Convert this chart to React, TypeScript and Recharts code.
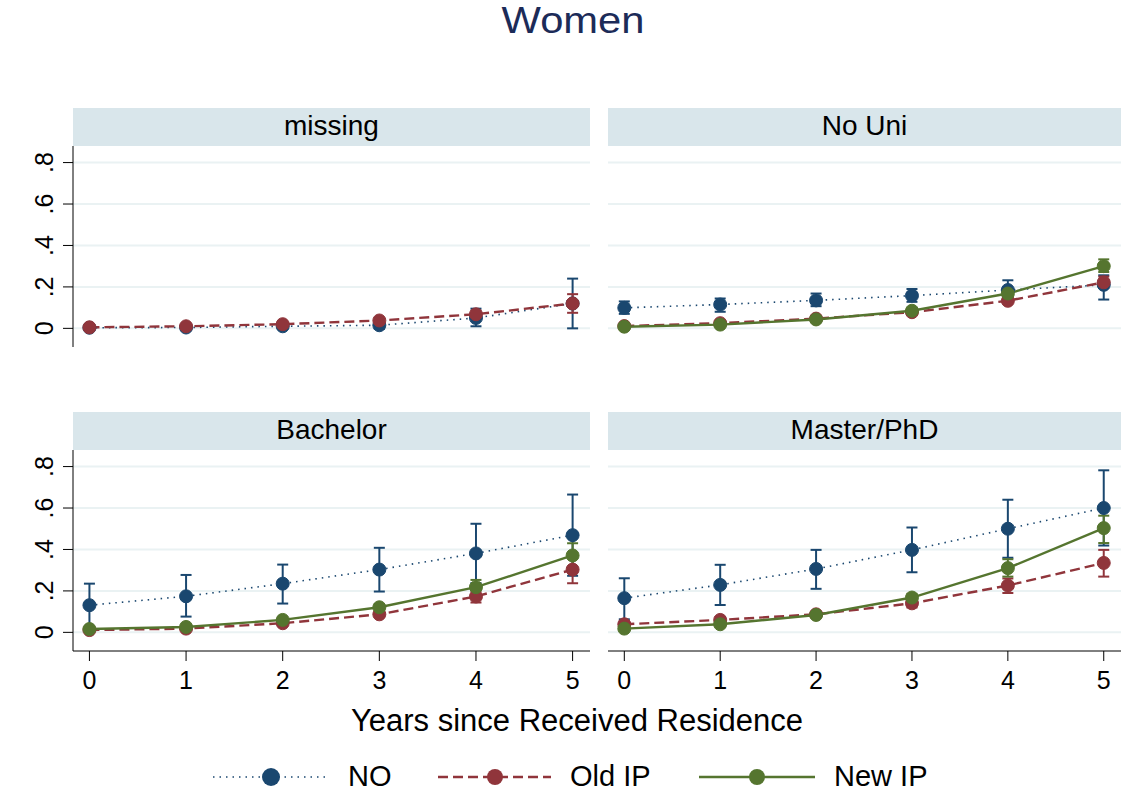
import React from 'react';
import { LineChart, Line, XAxis, YAxis, CartesianGrid, ErrorBar } from 'recharts';

// ---------- data ----------
const years = [0, 1, 2, 3, 4, 5];
const yTicks = [0, 0.2, 0.4, 0.6, 0.8];
const yTickLabels = ['0', '.2', '.4', '.6', '.8'];
const panelTitles = ['missing', 'No Uni', 'Bachelor', 'Master/PhD'];
const seriesNames = ['NO', 'Old IP', 'New IP'];
const chartTitle = 'Women';
const xTitle = 'Years since Received Residence';

// panel: missing
const missingNO = [0.003, 0.004, 0.01, 0.015, 0.05, 0.12];
const missingNOLo = [0.0, 0.0, 0.0, -0.003, 0.01, 0.0];
const missingNOHi = [0.006, 0.01, 0.02, 0.035, 0.095, 0.24];
const missingOld = [0.005, 0.01, 0.02, 0.038, 0.068, 0.12];
const missingOldLo = [0.002, 0.006, 0.014, 0.03, 0.055, 0.075];
const missingOldHi = [0.008, 0.014, 0.026, 0.046, 0.085, 0.165];

// panel: No Uni
const noUniNO = [0.099, 0.115, 0.135, 0.158, 0.185, 0.21];
const noUniNOLo = [0.07, 0.08, 0.107, 0.128, 0.144, 0.139];
const noUniNOHi = [0.13, 0.144, 0.168, 0.19, 0.232, 0.256];
const noUniOld = [0.011, 0.025, 0.047, 0.078, 0.133, 0.222];
const noUniOldLo = [0.005, 0.017, 0.04, 0.07, 0.12, 0.195];
const noUniOldHi = [0.017, 0.033, 0.055, 0.087, 0.147, 0.25];
const noUniNew = [0.008, 0.018, 0.043, 0.085, 0.168, 0.3];
const noUniNewLo = [0.004, 0.013, 0.037, 0.076, 0.155, 0.272];
const noUniNewHi = [0.012, 0.023, 0.049, 0.094, 0.181, 0.333];

// panel: Bachelor
const bachNO = [0.131, 0.174, 0.235, 0.303, 0.381, 0.469];
const bachNOLo = [0.025, 0.076, 0.139, 0.197, 0.238, 0.273];
const bachNOHi = [0.235, 0.277, 0.327, 0.408, 0.524, 0.665];
const bachOld = [0.011, 0.018, 0.044, 0.087, 0.173, 0.303];
const bachOldLo = [0.006, 0.012, 0.036, 0.076, 0.144, 0.237];
const bachOldHi = [0.016, 0.024, 0.052, 0.098, 0.197, 0.37];
const bachNew = [0.016, 0.026, 0.06, 0.121, 0.218, 0.371];
const bachNewLo = [0.01, 0.019, 0.05, 0.105, 0.18, 0.31];
const bachNewHi = [0.022, 0.033, 0.07, 0.137, 0.253, 0.43];

// panel: Master/PhD
const mastNO = [0.165, 0.229, 0.306, 0.398, 0.5, 0.6];
const mastNOLo = [0.063, 0.132, 0.21, 0.29, 0.36, 0.419];
const mastNOHi = [0.261, 0.326, 0.398, 0.506, 0.64, 0.782];
const mastOld = [0.039, 0.06, 0.087, 0.14, 0.226, 0.335];
const mastOldLo = [0.027, 0.046, 0.075, 0.12, 0.19, 0.269];
const mastOldHi = [0.051, 0.074, 0.099, 0.16, 0.26, 0.398];
const mastNew = [0.018, 0.039, 0.084, 0.168, 0.31, 0.503];
const mastNewLo = [0.01, 0.028, 0.072, 0.15, 0.269, 0.431];
const mastNewHi = [0.026, 0.05, 0.096, 0.186, 0.353, 0.563];

// ---------- style ----------
const FONT = '"Liberation Sans", Arial, Helvetica, sans-serif';
const NAVY = '#1a476f';
const MAROON = '#90353b';
const GREEN = '#55752f';
const STRIP = '#d9e6eb';
const GRID = '#eaf2f3';
const TITLE_COLOR = '#1c2b58';

const xDomain = [-0.17, 5.18];
const yDomain = [-0.09, 0.88];

type Ser = { est: number[]; lo: number[]; hi: number[] } | null;

function err(est: number[], lo: number[], hi: number[], i: number) {
  return [est[i] - lo[i], hi[i] - est[i]];
}

function buildRows(no: Ser, old: Ser, nw: Ser) {
  return years.map((x, i) => {
    const r: any = { x };
    if (no) { r.no = no.est[i]; r.noErr = err(no.est, no.lo, no.hi, i); }
    if (old) { r.old = old.est[i]; r.oldErr = err(old.est, old.lo, old.hi, i); }
    if (nw) { r.nw = nw.est[i]; r.nwErr = err(nw.est, nw.lo, nw.hi, i); }
    return r;
  });
}

const panels = [
  {
    title: panelTitles[0], col: 0, row: 0,
    rows: buildRows(
      { est: missingNO, lo: missingNOLo, hi: missingNOHi },
      { est: missingOld, lo: missingOldLo, hi: missingOldHi },
      null),
    hasNew: false,
  },
  {
    title: panelTitles[1], col: 1, row: 0,
    rows: buildRows(
      { est: noUniNO, lo: noUniNOLo, hi: noUniNOHi },
      { est: noUniOld, lo: noUniOldLo, hi: noUniOldHi },
      { est: noUniNew, lo: noUniNewLo, hi: noUniNewHi }),
    hasNew: true,
  },
  {
    title: panelTitles[2], col: 0, row: 1,
    rows: buildRows(
      { est: bachNO, lo: bachNOLo, hi: bachNOHi },
      { est: bachOld, lo: bachOldLo, hi: bachOldHi },
      { est: bachNew, lo: bachNewLo, hi: bachNewHi }),
    hasNew: true,
  },
  {
    title: panelTitles[3], col: 1, row: 1,
    rows: buildRows(
      { est: mastNO, lo: mastNOLo, hi: mastNOHi },
      { est: mastOld, lo: mastOldLo, hi: mastOldHi },
      { est: mastNew, lo: mastNewLo, hi: mastNewHi }),
    hasNew: true,
  },
];

// ---------- layout ----------
const HEADER_H = 38;
const PLOT_H = 201;
const X_AXIS_H = 50;
const Y_AXIS_W = 73;
const rowHeaderTop = [108, 412];
const colChartLeft = [0, 608];
const colChartW = [590, 513];

const YTick = (p: any) => {
  const idx = yTicks.indexOf(p.payload.value);
  return (
    <text
      transform={`translate(53, ${p.y}) rotate(-90)`}
      textAnchor="middle"
      fontSize={25}
      fontFamily={FONT}
      fill="#000"
    >
      {idx >= 0 ? yTickLabels[idx] : p.payload.value}
    </text>
  );
};

const XTick = (p: any) => (
  <text x={p.x} y={PLOT_H + 38} textAnchor="middle" fontSize={25} fontFamily={FONT} fill="#000">
    {p.payload.value}
  </text>
);

function Panel({ panel }: { panel: any }) {
  const showY = panel.col === 0;
  const showX = panel.row === 1;
  const left = colChartLeft[panel.col];
  const w = colChartW[panel.col];
  const top = rowHeaderTop[panel.row] + HEADER_H;
  const h = PLOT_H + (showX ? X_AXIS_H : 0);
  const dotBase = { strokeWidth: 1, strokeDasharray: '0' };
  return (
    <div style={{ position: 'absolute', left, top, width: w, height: h }}>
      <LineChart width={w} height={h} data={panel.rows} margin={{ top: 0, right: 0, bottom: 0, left: 0 }}>
        <CartesianGrid
          horizontal
          vertical={false}
          stroke={GRID}
          strokeWidth={2}
          horizontalValues={yTicks}
        />
        <XAxis
          type="number"
          dataKey="x"
          domain={xDomain}
          ticks={years}
          interval={0}
          allowDataOverflow
          hide={!showX}
          height={X_AXIS_H}
          tickSize={10}
          axisLine={{ stroke: '#000', strokeWidth: 1 }}
          tickLine={{ stroke: '#000', strokeWidth: 1 }}
          tick={XTick}
        />
        <YAxis
          type="number"
          domain={yDomain}
          ticks={yTicks}
          interval={0}
          allowDataOverflow
          hide={!showY}
          width={Y_AXIS_W}
          tickSize={10}
          axisLine={{ stroke: '#000', strokeWidth: 1 }}
          tickLine={{ stroke: '#000', strokeWidth: 1 }}
          tick={YTick}
        />
        <Line
          dataKey="no"
          name={seriesNames[0]}
          stroke={NAVY}
          strokeWidth={1.6}
          strokeDasharray="1.5 5"
          dot={{ r: 6.5, fill: NAVY, stroke: NAVY, ...dotBase }}
          activeDot={false}
          isAnimationActive={false}
        >
          <ErrorBar dataKey="noErr" direction="y" width={5.5} stroke={NAVY} strokeWidth={2} />
        </Line>
        <Line
          dataKey="old"
          name={seriesNames[1]}
          stroke={MAROON}
          strokeWidth={2.4}
          strokeDasharray="10 5"
          dot={{ r: 6.5, fill: MAROON, stroke: MAROON, ...dotBase }}
          activeDot={false}
          isAnimationActive={false}
        >
          <ErrorBar dataKey="oldErr" direction="y" width={5.5} stroke={MAROON} strokeWidth={2} />
        </Line>
        {panel.hasNew && (
          <Line
            dataKey="nw"
            name={seriesNames[2]}
            stroke={GREEN}
            strokeWidth={2.4}
            dot={{ r: 6.5, fill: GREEN, stroke: GREEN, ...dotBase }}
            activeDot={false}
            isAnimationActive={false}
          >
            <ErrorBar dataKey="nwErr" direction="y" width={5.5} stroke={GREEN} strokeWidth={2} />
          </Line>
        )}
      </LineChart>
    </div>
  );
}

const legendItems = [
  { name: seriesNames[0], color: NAVY, dash: '1.5 5', sw: 1.6, x1: 213, x2: 325, mx: 271, r: 9, tx: 348 },
  { name: seriesNames[1], color: MAROON, dash: '10 5', sw: 2.4, x1: 438, x2: 551, mx: 495, r: 8, tx: 570 },
  { name: seriesNames[2], color: GREEN, dash: undefined, sw: 2.4, x1: 699, x2: 815, mx: 757, r: 8, tx: 834 },
];

export default function App() {
  return (
    <div style={{ position: 'absolute', left: 0, top: 0, width: 1121, height: 792, background: '#fff', overflow: 'hidden' }}>
      <svg width={1121} height={792} style={{ position: 'absolute', left: 0, top: 0 }}>
        <text
          x={573}
          y={33}
          textAnchor="middle"
          fontSize={37}
          fontFamily={FONT}
          fill={TITLE_COLOR}
          textLength={143}
          lengthAdjust="spacingAndGlyphs"
        >
          {chartTitle}
        </text>
        {panels.map((p, i) => {
          const hx = p.col === 0 ? Y_AXIS_W : colChartLeft[1];
          const hw = p.col === 0 ? colChartW[0] - Y_AXIS_W : colChartW[1];
          const hy = rowHeaderTop[p.row];
          return (
            <g key={i}>
              <rect x={hx} y={hy} width={hw} height={HEADER_H} fill={STRIP} />
              <text x={hx + hw / 2} y={hy + 27} textAnchor="middle" fontSize={28} fontFamily={FONT} fill="#000">
                {p.title}
              </text>
            </g>
          );
        })}
        <text x={577} y={731} textAnchor="middle" fontSize={31} fontFamily={FONT} fill="#000">
          {xTitle}
        </text>
        {legendItems.map((it, i) => (
          <g key={i}>
            <line x1={it.x1} x2={it.x2} y1={777} y2={777} stroke={it.color} strokeWidth={it.sw} strokeDasharray={it.dash} />
            <circle cx={it.mx} cy={777} r={it.r} fill={it.color} />
            <text x={it.tx} y={786} fontSize={29} fontFamily={FONT} fill="#000">{it.name}</text>
          </g>
        ))}
      </svg>
      {panels.map((p, i) => (
        <Panel key={i} panel={p} />
      ))}
    </div>
  );
}
